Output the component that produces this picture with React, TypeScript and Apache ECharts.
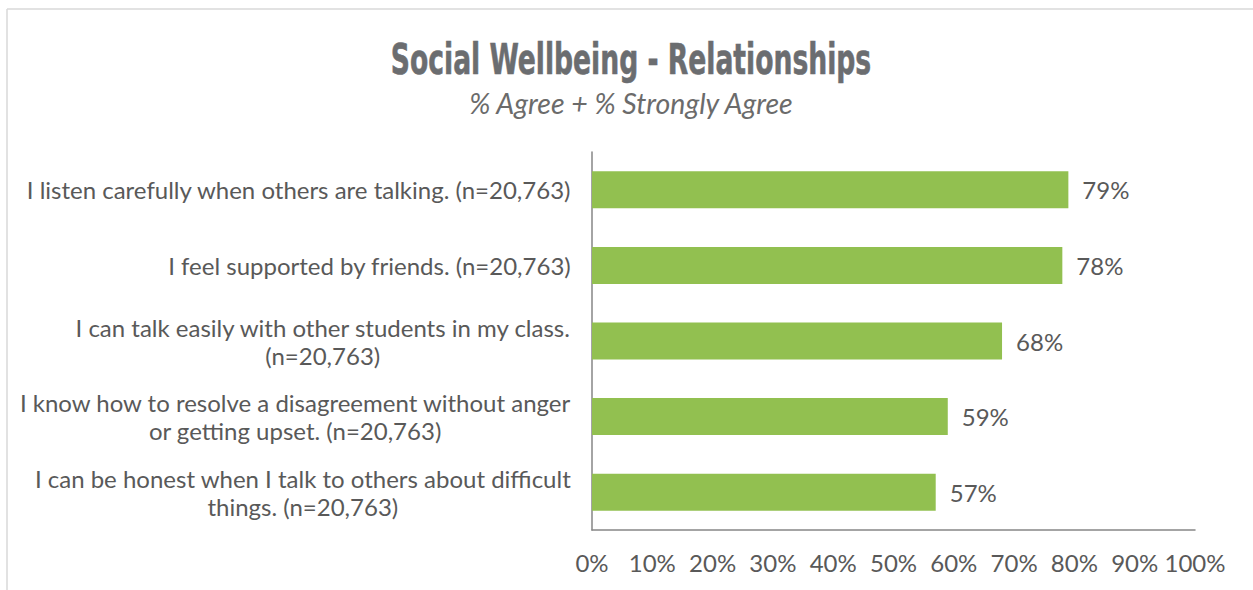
import React, { useEffect, useRef } from "react";
import * as echarts from "echarts";

const categories = [
  "I listen carefully when others are talking. (n=20,763)",
  "I feel supported by friends. (n=20,763)",
  "I can talk easily with other students in my class.\n(n=20,763)",
  "I know how to resolve a disagreement without anger\nor getting upset. (n=20,763)",
  "I can be honest when I talk to others about difficult\nthings. (n=20,763)",
];
const values = [79, 78, 68, 59, 57];
const xTicks = [0, 10, 20, 30, 40, 50, 60, 70, 80, 90, 100];
const titleText = "Social Wellbeing - Relationships";
const subtitleText = "% Agree + % Strongly Agree";

export default function App() {
  const ref = useRef<HTMLDivElement>(null);
  useEffect(() => {
    document.body.style.margin = "0";
    const chart = echarts.init(ref.current!, null, { renderer: "svg" });
    chart.setOption({
      animation: false,
      backgroundColor: "#ffffff",
      graphic: [
        {
          type: "line",
          shape: { x1: 7, y1: 9, x2: 1253, y2: 9 },
          style: { stroke: "#d9d9d9", lineWidth: 1.5 },
        },
        {
          type: "line",
          shape: { x1: 7, y1: 9, x2: 7, y2: 590 },
          style: { stroke: "#d9d9d9", lineWidth: 1.5 },
        },
        {
          type: "text",
          x: 631,
          y: 59,
          scaleX: 0.688,
          style: {
            text: titleText,
            fontFamily: "'Liberation Sans Narrow', 'DejaVu Sans Condensed', sans-serif",
            fontWeight: "bold",
            fontSize: 43,
            fill: "#6b6d70",
            stroke: "#6b6d70",
            lineWidth: 0.6,
            align: "center",
            verticalAlign: "middle",
          },
        },
        {
          type: "text",
          x: 631,
          y: 103,
          style: {
            text: subtitleText,
            fontFamily: "Lato, sans-serif",
            fontStyle: "italic",
            fontSize: 28.5,
            fill: "#6b6b6b",
            align: "center",
            verticalAlign: "middle",
          },
        },
      ],
      grid: { left: 592, right: 58, top: 152, bottom: 60, containLabel: false },
      xAxis: {
        type: "value",
        min: 0,
        max: 100,
        interval: 10,
        splitLine: { show: false },
        axisTick: { show: false },
        axisLine: { show: true, lineStyle: { color: "#868686", width: 1.5 } },
        axisLabel: {
          formatter: (v: number) => (xTicks.includes(v) ? v + "%" : ""),
          fontFamily: "Lato, sans-serif",
          fontSize: 24,
          color: "#595959",
          margin: 20,
        },
      },
      yAxis: {
        type: "category",
        inverse: true,
        data: categories,
        axisTick: { show: false },
        axisLine: { show: true, lineStyle: { color: "#868686", width: 1.5 } },
        axisLabel: {
          formatter: (v: string) =>
            v
              .split("\n")
              .map((l) => "{c|" + l + "}")
              .join("\n"),
          rich: {
            c: {
              align: "center",
              fontFamily: "Lato, sans-serif",
              fontSize: 24,
              lineHeight: 28,
              color: "#595959",
            },
          },
          fontFamily: "Lato, sans-serif",
          fontSize: 24,
          lineHeight: 28,
          color: "#595959",
          margin: 21,
          align: "right",
        },
      },
      series: [
        {
          type: "bar",
          data: values,
          barWidth: 37,
          itemStyle: { color: "#92c050" },
          label: {
            show: true,
            position: "right",
            distance: 14,
            formatter: "{c}%",
            fontFamily: "Lato, sans-serif",
            fontSize: 24,
            color: "#595959",
          },
        },
      ],
    });
    return () => chart.dispose();
  }, []);
  return (
    <div
      ref={ref}
      style={{ position: "absolute", left: 0, top: 0, width: 1253, height: 590 }}
    />
  );
}
